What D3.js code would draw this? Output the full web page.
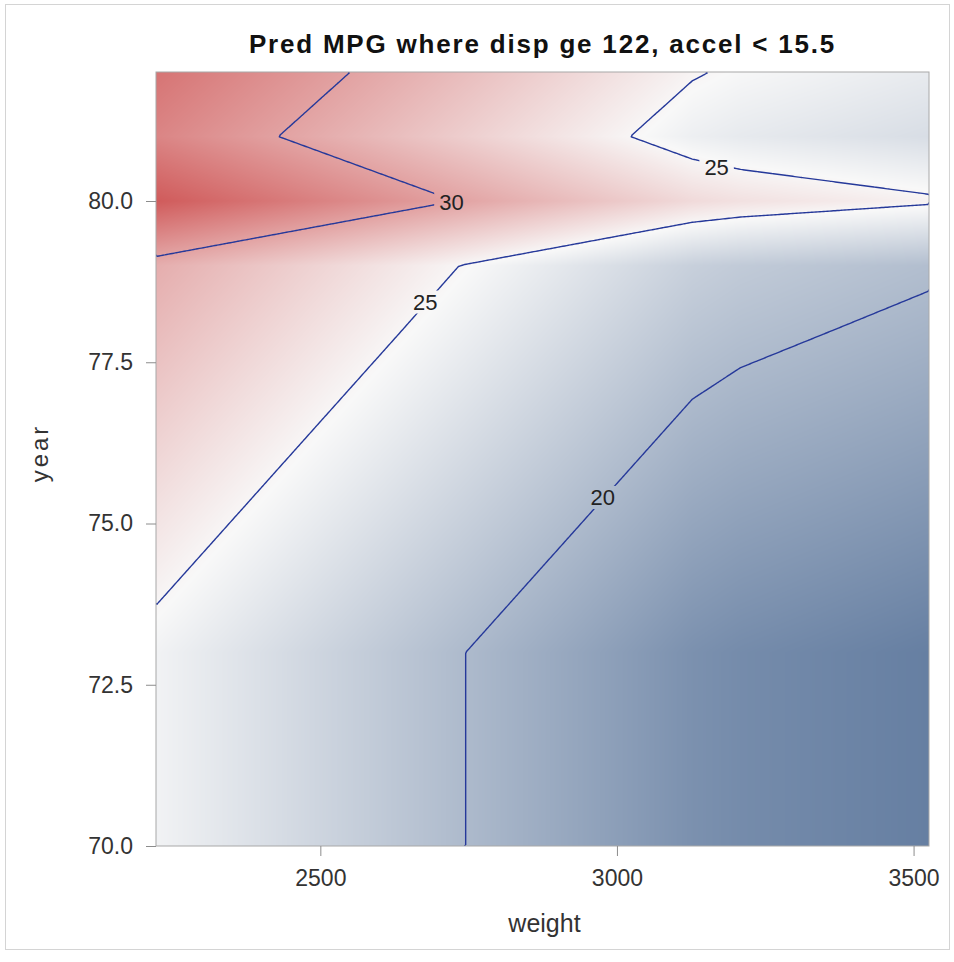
<!DOCTYPE html>
<html><head><meta charset="utf-8">
<script src="https://cdn.jsdelivr.net/npm/d3@7"></script>
<style>body{margin:0;background:#fff}svg{display:block}</style>
</head><body>
<svg id="chart" width="954" height="962"></svg>
<script>
// ---------- data ----------
const years   = [70, 71, 72, 73, 74, 75, 76, 77, 78, 79, 80, 81, 82];
const weights = [2223, 2745, 3127, 3208, 3526];
// predicted MPG at each (year row, weight column)
const mpg = [
  [24.40, 20.00, 16.78, 16.38, 15.41],
  [24.40, 20.00, 16.78, 16.38, 15.41],
  [24.40, 20.00, 16.78, 16.38, 15.41],
  [24.40, 20.00, 16.78, 16.38, 15.41],
  [25.22, 20.82, 17.60, 17.20, 16.23],
  [26.04, 21.64, 18.42, 18.02, 17.05],
  [26.86, 22.46, 19.24, 18.84, 17.87],
  [27.68, 23.28, 20.06, 19.66, 18.69],
  [28.50, 24.10, 20.88, 20.48, 19.51],
  [29.31, 24.91, 21.69, 21.29, 20.32],
  [34.25, 29.85, 26.63, 26.23, 25.26],
  [31.74, 27.34, 24.12, 23.72, 22.75],
  [32.76, 28.36, 25.14, 24.74, 23.77]
];
const contourLevels = [20, 25, 30];
const labelValues  = [30, 25, 25, 20];
const labelWeights = [2721, 3168, 2677, 2976];
const labelYears   = [79.98, 80.52, 78.44, 75.41];
const xTicks = [2500, 3000, 3500];
const yTicks = [70, 72.5, 75, 77.5, 80];
const titleText = "Pred MPG where disp ge 122, accel < 15.5";
const xLabel = "weight", yLabel = "year";

// ---------- layout ----------
const L = 156, T = 72, R = 929, B = 846;
const pw = R - L, ph = B - T;
const svg = d3.select("#chart");
const font = "'Liberation Sans', Arial, sans-serif";

const x = d3.scaleLinear().domain([weights[0], weights[weights.length-1]]).range([L, R]);
const y = d3.scaleLinear().domain([years[0], years[years.length-1]]).range([B, T]);

function f(w, yr) {
  let i = Math.max(0, Math.min(weights.length - 2, d3.bisectRight(weights, w) - 1));
  let j = Math.max(0, Math.min(years.length - 2, d3.bisectRight(years, yr) - 1));
  const tx = (w - weights[i]) / (weights[i+1] - weights[i]);
  const ty = (yr - years[j]) / (years[j+1] - years[j]);
  const a = (1-tx)*mpg[j][i] + tx*mpg[j][i+1];
  const b = (1-tx)*mpg[j+1][i] + tx*mpg[j+1][i+1];
  return (1-ty)*a + ty*b;
}

const flat = mpg.flat();
const lo = d3.min(flat), hi = d3.max(flat), mid = (lo + hi) / 2;
const color = d3.scaleLinear().domain([lo, mid, hi])
  .range(["#667FA2", "#F8F8F8", "#D05B5B"]).interpolate(d3.interpolateRgb);

// outer frame
svg.append("rect").attr("x", 5.5).attr("y", 4.5).attr("width", 944).attr("height", 945)
  .attr("fill", "none").attr("stroke", "#d4d4d4");

// ---------- gradient surface ----------
const canvas = document.createElement("canvas");
canvas.width = pw; canvas.height = ph;
const ctx = canvas.getContext("2d");
const img = ctx.createImageData(pw, ph);
for (let py = 0; py < ph; py++) {
  const yr = y.invert(T + py + 0.5);
  for (let px = 0; px < pw; px++) {
    const w = x.invert(L + px + 0.5);
    const c = d3.rgb(color(f(w, yr)));
    const k = (py * pw + px) * 4;
    img.data[k] = c.r; img.data[k+1] = c.g; img.data[k+2] = c.b; img.data[k+3] = 255;
  }
}
ctx.putImageData(img, 0, 0);
svg.append("image").attr("x", L).attr("y", T).attr("width", pw).attr("height", ph)
  .attr("preserveAspectRatio", "none").attr("href", canvas.toDataURL());

// ---------- contour lines ----------
const n = 400, m = 400;
const gx = d3.scaleLinear().domain([0, n]).range(x.domain());
const gy = d3.scaleLinear().domain([0, m]).range([y.domain()[1], y.domain()[0]]);
const values = new Array(n * m);
for (let j = 0; j < m; j++) for (let i = 0; i < n; i++)
  values[j*n + i] = f(gx(i + 0.5), gy(j + 0.5));
const contours = d3.contours().size([n, m]).thresholds(contourLevels)(values);

const eps = 1e-6;
const onEdge = p => p[0] <= eps || p[0] >= n - eps || p[1] <= eps || p[1] >= m - eps;
const lines = [];
contours.forEach(c => {
  c.coordinates.forEach(poly => poly.forEach(ring => {
    let cur = [];
    for (let k = 1; k < ring.length; k++) {
      const a = ring[k-1], b = ring[k];
      if (onEdge(a) && onEdge(b)) {
        if (cur.length > 1) lines.push(cur);
        cur = [];
      } else {
        if (cur.length === 0) cur.push(a);
        cur.push(b);
      }
    }
    if (cur.length > 1) lines.push(cur);
  }));
});

const defs = svg.append("defs");
defs.append("clipPath").attr("id", "plotclip").append("rect")
  .attr("x", L).attr("y", T).attr("width", pw).attr("height", ph);
const mask = defs.append("mask").attr("id", "lblmask").attr("maskUnits", "userSpaceOnUse")
  .attr("x", 0).attr("y", 0).attr("width", 954).attr("height", 962);
mask.append("rect").attr("width", 954).attr("height", 962).attr("fill", "white");

const lineGen = d3.line().x(p => x(gx(p[0]))).y(p => y(gy(p[1])));
svg.append("g").attr("clip-path", "url(#plotclip)")
  .append("g").attr("mask", "url(#lblmask)")
  .selectAll("path").data(lines).join("path")
  .attr("d", lineGen).attr("fill", "none")
  .attr("stroke", "#26399A").attr("stroke-width", 1.4).attr("stroke-linejoin", "round");

// contour labels
const lbl = svg.append("g").selectAll("text").data(labelValues).join("text")
  .attr("x", (d, i) => x(labelWeights[i])).attr("y", (d, i) => y(labelYears[i]))
  .attr("dy", "0.36em").attr("text-anchor", "middle")
  .attr("font-family", font).attr("font-size", 22).attr("fill", "#222")
  .text(d => d);
lbl.each(function() {
  const bb = this.getBBox();
  mask.append("rect").attr("x", bb.x - 5).attr("y", bb.y + 1)
    .attr("width", bb.width + 10).attr("height", bb.height - 2).attr("fill", "black");
});

// ---------- frame & axes ----------
svg.append("rect").attr("x", L).attr("y", T).attr("width", pw).attr("height", ph)
  .attr("fill", "none").attr("stroke", "#a8a8a8").attr("stroke-width", 1);

const ya = svg.append("g").attr("transform", `translate(${L},0)`)
  .call(d3.axisLeft(y).tickValues(yTicks).tickFormat(d3.format(".1f")).tickSize(10).tickPadding(13));
const xa = svg.append("g").attr("transform", `translate(0,${B})`)
  .call(d3.axisBottom(x).tickValues(xTicks).tickFormat(d3.format("d")).tickSize(10).tickPadding(14));
[ya, xa].forEach(g => {
  g.select(".domain").remove();
  g.selectAll(".tick line").attr("stroke", "#8c8c8c");
  g.selectAll(".tick text").attr("font-family", font).attr("font-size", 23).attr("fill", "#333");
});

svg.append("text").attr("x", (L + R) / 2 + 2).attr("y", 932).attr("text-anchor", "middle")
  .attr("font-family", font).attr("font-size", 25).attr("fill", "#333").text(xLabel);
svg.append("text").attr("transform", `translate(48,${(T + B) / 2 - 6}) rotate(-90)`)
  .attr("text-anchor", "middle").attr("font-family", font).attr("font-size", 24)
  .attr("letter-spacing", 3).attr("fill", "#333").text(yLabel);

svg.append("text").attr("x", (L + R) / 2).attr("y", 53).attr("text-anchor", "middle")
  .attr("font-family", font).attr("font-size", 26).attr("font-weight", "bold")
  .attr("letter-spacing", 1.8).attr("fill", "#111").text(titleText);
</script>
</body></html>
